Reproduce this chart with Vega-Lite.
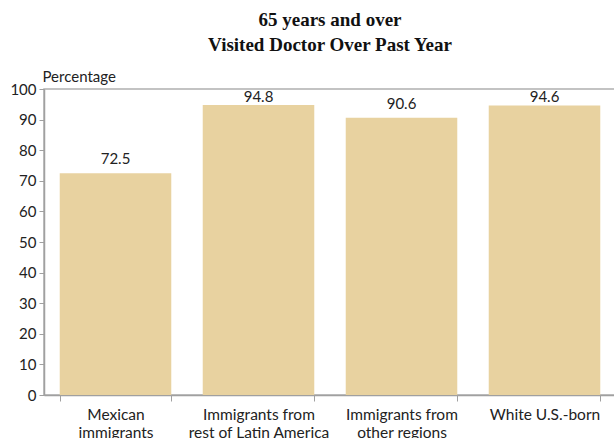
{
  "$schema": "https://vega.github.io/schema/vega-lite/v6.json",
  "width": 572,
  "height": 306,
  "autosize": {"type": "none"},
  "padding": {"left": 44, "top": 89, "right": 0, "bottom": 43},
  "background": "white",
  "view": {"stroke": "#b0b0b0", "strokeWidth": 1.5},
  "title": {
    "text": ["65 years and over", "Visited Doctor Over Past Year"],
    "font": "Liberation Serif",
    "fontWeight": "bold",
    "fontSize": 19,
    "color": "#111111",
    "anchor": "middle",
    "lineHeight": 25,
    "offset": 14
  },
  "data": {
    "values": [
      {"group": "Mexican|immigrants", "value": 72.5},
      {"group": "Immigrants from|rest of Latin America", "value": 94.8},
      {"group": "Immigrants from|other regions", "value": 90.6},
      {"group": "White U.S.-born", "value": 94.6}
    ]
  },
  "resolve": {"axis": {"y": "independent"}},
  "encoding": {
    "x": {
      "field": "group",
      "type": "nominal",
      "sort": ["Mexican|immigrants", "Immigrants from|rest of Latin America", "Immigrants from|other regions", "White U.S.-born"],
      "scale": {"paddingInner": 0.22, "paddingOuter": 0.11},
      "axis": {
        "title": null,
        "labelAngle": 0,
        "labelExpr": "split(datum.label, '|')",
        "labelFont": "Lato",
        "labelFontSize": 15.5,
        "labelColor": "#222222",
        "labelLineHeight": 18,
        "labelPadding": 6,
        "tickBand": "extent",
        "tickSize": 6,
        "tickColor": "#a0a0a0",
        "domainColor": "#a0a0a0",
        "domainWidth": 1.5
      }
    }
  },
  "layer": [
    {
      "mark": {"type": "bar", "color": "#E8D2A0"},
      "encoding": {
        "y": {
          "field": "value",
          "type": "quantitative",
          "scale": {"domain": [0, 100], "nice": false},
          "axis": {
            "values": [0, 10, 20, 30, 40, 50, 60, 70, 80, 90, 100],
            "labelOverlap": false,
            "grid": false,
            "title": "Percentage",
            "titleAngle": 0,
            "titleAlign": "left",
            "titleBaseline": "bottom",
            "titleX": -2,
            "titleY": -5,
            "titleFont": "Lato",
            "titleFontSize": 15,
            "titleFontWeight": "normal",
            "titleColor": "#222222",
            "labelFont": "Lato",
            "labelFontSize": 15,
            "labelColor": "#222222",
            "labelPadding": 3,
            "tickSize": 5,
            "tickColor": "#a0a0a0",
            "domainColor": "#a0a0a0",
            "domainWidth": 1.5
          }
        }
      }
    },
    {
      "transform": [{"calculate": "min(datum.value + 3, 95.6)", "as": "labelPos"}],
      "mark": {"type": "text", "baseline": "alphabetic", "font": "Lato", "fontSize": 15, "color": "#222222"},
      "encoding": {
        "y": {"field": "labelPos", "type": "quantitative", "axis": null},
        "text": {"field": "value", "type": "quantitative", "format": ".1f"}
      }
    }
  ]
}
